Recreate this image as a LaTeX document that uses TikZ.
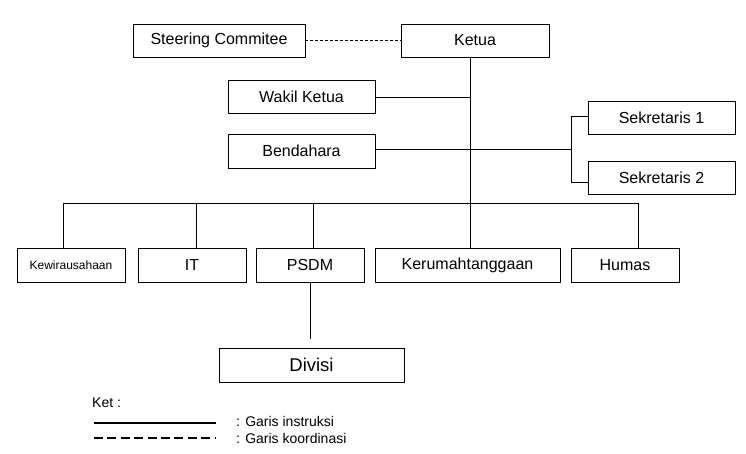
\documentclass[tikz,border=0pt]{standalone}
\usepackage{fontspec}
\setmainfont{Liberation Sans}
\begin{document}
\begin{tikzpicture}[x=1pt,y=-1pt,
  box/.style={draw, line width=0.9pt, rectangle, inner sep=0pt, font=\fontsize{16}{18}\selectfont},
  conn/.style={line width=0.9pt},
  coord/.style={line width=0.9pt, dash pattern=on 3pt off 2pt},
  legtext/.style={anchor=west, inner sep=0pt, font=\fontsize{14}{16}\selectfont}]
\useasboundingbox (0,0) rectangle (746,454);
% top level
\node[box, minimum width=172pt, minimum height=33pt] (sc) at (219,40.5) {Steering Commitee};
\node[box, minimum width=148pt, minimum height=33pt] (ketua) at (475,40.5) {Ketua};
\node[box, minimum width=147pt, minimum height=33pt] (wakil) at (301.5,96.5) {Wakil Ketua};
\node[box, minimum width=147pt, minimum height=34pt] (bend) at (301.5,151) {Bendahara};
\node[box, minimum width=147pt, minimum height=33pt] (sek1) at (661.5,117.5) {Sekretaris 1};
\node[box, minimum width=147pt, minimum height=33pt] (sek2) at (661.5,177.5) {Sekretaris 2};
% bottom row
\node[box, minimum width=108pt, minimum height=34pt, font=\fontsize{12}{14}\selectfont] (kew) at (71,265) {Kewirausahaan};
\node[box, minimum width=108pt, minimum height=34pt] (it) at (192,265) {IT};
\node[box, minimum width=108pt, minimum height=34pt] (psdm) at (310,265) {PSDM};
\node[box, minimum width=185pt, minimum height=34pt] (keru) at (467.5,265) {Kerumahtanggaan};
\node[box, minimum width=108pt, minimum height=34pt] (humas) at (625,265) {Humas};
\node[box, minimum width=185pt, minimum height=34pt, font=\fontsize{18.5}{20}\selectfont] (divisi) at (311.5,365) {Divisi};
% coordinates
\coordinate (tw) at (470,97);
\coordinate (tb) at (470,149);
\coordinate (br) at (571.5,149);
\coordinate (br1) at (571.5,116);
\coordinate (br2) at (571.5,182);
\coordinate (bus) at (470,203);
\coordinate (b1) at (63,203);
\coordinate (b2) at (196,203);
\coordinate (b3) at (313,203);
\coordinate (b5) at (638,203);
% connectors
\draw[coord] (sc.east) -- (ketua.west);
\draw[conn] (bus |- ketua.south) -- (bus);
\draw[conn] (wakil.east |- tw) -- (tw);
\draw[conn] (bend.east |- tb) -- (br);
\draw[conn] (sek1.west |- br1) -- (br1) -- (br2) -- (sek2.west |- br2);
\draw[conn] (b1) -- (b5);
\draw[conn] (b1) -- (b1 |- kew.north);
\draw[conn] (b2) -- (b2 |- it.north);
\draw[conn] (b3) -- (b3 |- psdm.north);
\draw[conn] (bus) -- (bus |- keru.north);
\draw[conn] (b5) -- (b5 |- humas.north);
\draw[conn, shorten >=9pt] (psdm.south) -- (divisi.north -| psdm.south);
% legend
\node[legtext] (ket) at (92,403) {Ket :};
\coordinate (l1a) at (94,423);
\coordinate (l1b) at (216,423);
\coordinate (l2a) at (94,438);
\coordinate (l2b) at (216,438);
\draw[line width=2pt] (l1a) -- (l1b);
\draw[line width=2pt, dash pattern=on 9pt off 4.4pt] (l2a) -- (l2b);
\node[legtext] (lg1) at (236,421) {: Garis instruksi};
\node[legtext] (lg2) at (236,438) {: Garis koordinasi};
\end{tikzpicture}
\end{document}
